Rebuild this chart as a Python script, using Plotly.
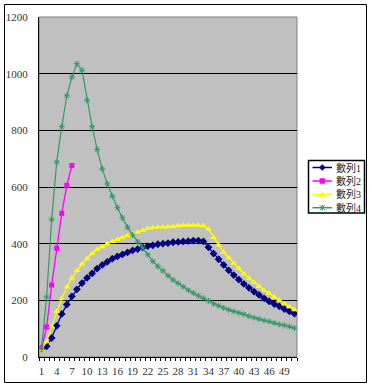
import plotly.graph_objects as go

categories = list(range(1, 52))

series1 = [30, 38, 67, 110, 152, 185, 214, 239, 261, 279, 295, 312, 325, 336, 347, 355, 362, 369, 376, 381,
           386, 391, 394, 398, 400, 402, 405, 406, 408, 409, 411, 411, 408, 387, 365, 345, 325, 306, 289, 273,
           258, 244, 231, 219, 207, 196, 187, 179, 169, 161, 153]
series2 = [30, 106, 254, 384, 507, 606, 676]
series3 = [26, 54, 108, 161, 206, 247, 279, 305, 328, 348, 365, 379, 389, 400, 408, 415, 422, 429, 435, 441,
           447, 454, 456, 458, 459, 460, 461, 463, 465, 465, 465, 465, 463, 452, 422, 395, 370, 350, 331, 313,
           293, 278, 263, 249, 236, 224, 212, 200, 188, 177, 167]
series4 = [30, 212, 485, 688, 813, 922, 988, 1035, 1012, 906, 813, 732, 664, 611, 567, 527, 491, 458, 431, 406,
           385, 361, 338, 320, 304, 287, 272, 260, 248, 236, 226, 216, 207, 198, 188, 181, 173, 167, 161, 156,
           151, 144, 139, 134, 129, 125, 120, 115, 112, 107, 102]
names = ["數列1", "數列2", "數列3", "數列4"]
colors = ["#000080", "#FF00FF", "#FFFF00", "#339966"]
xtick_vals = list(range(1, 52, 3))
ytick_vals = [0, 200, 400, 600, 800, 1000, 1200]

fig = go.Figure()
fig.add_trace(go.Scatter(x=categories[:len(series1)], y=series1, name=names[0], mode="lines+markers",
                         line=dict(color=colors[0], width=1.3),
                         marker=dict(symbol="diamond", size=6, color=colors[0])))
fig.add_trace(go.Scatter(x=categories[:len(series2)], y=series2, name=names[1], mode="lines+markers",
                         line=dict(color=colors[1], width=1.3),
                         marker=dict(symbol="square", size=5, color=colors[1])))
fig.add_trace(go.Scatter(x=categories[:len(series3)], y=series3, name=names[2], mode="lines+markers",
                         line=dict(color=colors[2], width=1.3),
                         marker=dict(symbol="triangle-up", size=6, color=colors[2])))
fig.add_trace(go.Scatter(x=categories[:len(series4)], y=series4, name=names[3], mode="lines+markers",
                         line=dict(color=colors[3], width=1.2),
                         marker=dict(symbol="asterisk-open", size=5, color=colors[3],
                                     line=dict(color=colors[3], width=1))))

L, R, T, B = 39, 297, 17, 357
W, H = 372, 390
pw, ph = R - L, B - T


def px(xp):
    return (xp - L) / pw


def py(yp):
    return (B - yp) / ph


def path(points):
    return "M " + " L ".join(f"{px(a):.5f},{py(b):.5f}" for a, b in points) + " Z"


shapes = [
    dict(type="rect", xref="paper", yref="paper", x0=0, x1=1, y0=0, y1=1,
         line=dict(color="#808080", width=1), layer="below"),
    dict(type="rect", xref="paper", yref="paper", x0=px(4.5), x1=px(366.5), y0=py(382.5), y1=py(4.5),
         line=dict(color="black", width=1)),
    # legend box
    dict(type="rect", xref="paper", yref="paper", x0=px(308.5), x1=px(364.5), y0=py(213), y1=py(160.5),
         line=dict(color="black", width=1.5), fillcolor="white"),
]
annotations = []
rows = [167.5, 181, 194.3, 207.7]
for i, (nm, col) in enumerate(zip(names, colors)):
    cy = rows[i]
    shapes.append(dict(type="line", xref="paper", yref="paper", x0=px(312.5), x1=px(332), y0=py(cy), y1=py(cy),
                       line=dict(color=col, width=1.5)))
    cx = 322.3
    if i == 0:
        shapes.append(dict(type="path", xref="paper", yref="paper",
                           path=path([(cx, cy - 3), (cx + 3, cy), (cx, cy + 3), (cx - 3, cy)]),
                           fillcolor=col, line=dict(color=col, width=0.5)))
    elif i == 1:
        shapes.append(dict(type="path", xref="paper", yref="paper",
                           path=path([(cx - 2.5, cy - 2.5), (cx + 2.5, cy - 2.5), (cx + 2.5, cy + 2.5), (cx - 2.5, cy + 2.5)]),
                           fillcolor=col, line=dict(color=col, width=0.5)))
    elif i == 2:
        shapes.append(dict(type="path", xref="paper", yref="paper",
                           path=path([(cx, cy - 3), (cx + 3, cy + 2.5), (cx - 3, cy + 2.5)]),
                           fillcolor=col, line=dict(color=col, width=0.5)))
    else:
        for (a, b, c, d) in [(-2.5, -2.5, 2.5, 2.5), (-2.5, 2.5, 2.5, -2.5), (0, -3, 0, 3)]:
            shapes.append(dict(type="line", xref="paper", yref="paper",
                               x0=px(cx + a), y0=py(cy + b), x1=px(cx + c), y1=py(cy + d),
                               line=dict(color=col, width=1)))
    annotations.append(dict(xref="paper", yref="paper", x=px(333.5), y=py(cy), xanchor="left", yanchor="middle",
                            text=nm, showarrow=False,
                            font=dict(family="Liberation Serif, Noto Sans CJK TC, serif", size=10, color="#222")))

fig.update_layout(
    width=W, height=H,
    margin=dict(l=L, r=W - R, t=T, b=H - B, pad=0, autoexpand=False),
    paper_bgcolor="white",
    plot_bgcolor="#C0C0C0",
    font=dict(family="Liberation Serif, Times New Roman, serif", size=11, color="#333"),
    showlegend=False,
    shapes=shapes,
    annotations=annotations,
)
fig.update_xaxes(range=[0.5, 51.5], tickmode="array", tickvals=xtick_vals,
                 ticktext=[str(v) for v in xtick_vals], ticks="",
                 showgrid=False, zeroline=False, automargin=False,
                 showline=True, linecolor="black", linewidth=1,
                 minor=dict(tick0=0.5, dtick=1, ticks="outside", ticklen=3, tickcolor="black", showgrid=False),
                 ticklabelstandoff=4)
fig.update_yaxes(range=[0, 1200], tickmode="array", tickvals=ytick_vals, ticks="",
                 showgrid=True, gridcolor="black", gridwidth=1, zeroline=False, automargin=False,
                 showline=True, linecolor="black", linewidth=1,
                 ticklabelstandoff=8)

fig.write_html("out.html", config={"displayModeBar": False},
               post_script="document.body.style.margin='0';document.body.style.overflow='hidden';")
